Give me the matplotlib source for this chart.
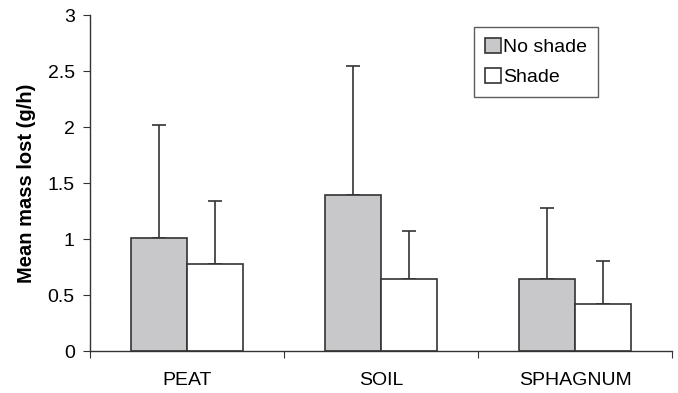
import numpy as np
import matplotlib
matplotlib.use('Agg')
import matplotlib.pyplot as plt

plt.rcParams['font.family'] = ['Liberation Sans', 'DejaVu Sans']

# data
categories = ['PEAT', 'SOIL', 'SPHAGNUM']
series = ['No shade', 'Shade']
no_shade = [1.01, 1.40, 0.65]
shade = [0.78, 0.65, 0.42]
no_shade_err = [1.01, 1.15, 0.63]
shade_err = [0.56, 0.43, 0.39]

edge = '#333333'
fig = plt.figure(figsize=(6.78, 3.93), dpi=100)
ax = fig.add_axes([0.1327, 0.1056, 0.8585, 0.855])

x = np.arange(len(categories))
w = 0.29
ax.bar(x - w / 2, no_shade, w, color='#c8c8cb', edgecolor=edge, linewidth=1.2,
       label=series[0], zorder=2)
ax.bar(x + w / 2, shade, w, color='white', edgecolor=edge, linewidth=1.2,
       label=series[1], zorder=2)
ax.errorbar(x - w / 2, no_shade, yerr=[np.zeros(3), no_shade_err], fmt='none',
            ecolor=edge, elinewidth=1.2, capsize=5, capthick=1.2, zorder=1)
ax.errorbar(x + w / 2, shade, yerr=[np.zeros(3), shade_err], fmt='none',
            ecolor=edge, elinewidth=1.2, capsize=5, capthick=1.2, zorder=1)

ax.set_xlim(-0.5, 2.5)
ax.set_ylim(0, 3)
ax.set_yticks([0, 0.5, 1, 1.5, 2, 2.5, 3])
ax.set_yticklabels(['0', '0.5', '1', '1.5', '2', '2.5', '3'])
ax.set_xticks([-0.5, 0.5, 1.5, 2.5])
ax.set_xticklabels([])
ax.set_xticks(x, minor=True)
ax.set_xticklabels(categories, minor=True)
ax.tick_params(axis='x', which='minor', length=0, pad=15, labelsize=14)
ax.tick_params(axis='x', which='major', length=5, color=edge)
ax.tick_params(axis='y', length=5, color=edge, labelsize=14, pad=6)

for s in ['top', 'right']:
    ax.spines[s].set_visible(False)
for s in ['left', 'bottom']:
    ax.spines[s].set_color(edge)
    ax.spines[s].set_linewidth(1.0)

ax.set_ylabel('Mean mass lost (g/h)', fontsize=14.5, fontweight='bold', labelpad=8)

leg = ax.legend(loc='upper right', bbox_to_anchor=(0.873, 0.965), fontsize=14,
                frameon=True, fancybox=False, handlelength=0.8, handleheight=0.8,
                handletextpad=0.15, borderpad=0.55, labelspacing=0.6, borderaxespad=0)
leg.get_frame().set_edgecolor(edge)
leg.get_frame().set_linewidth(1.0)

fig.savefig('out.png', dpi=100)
